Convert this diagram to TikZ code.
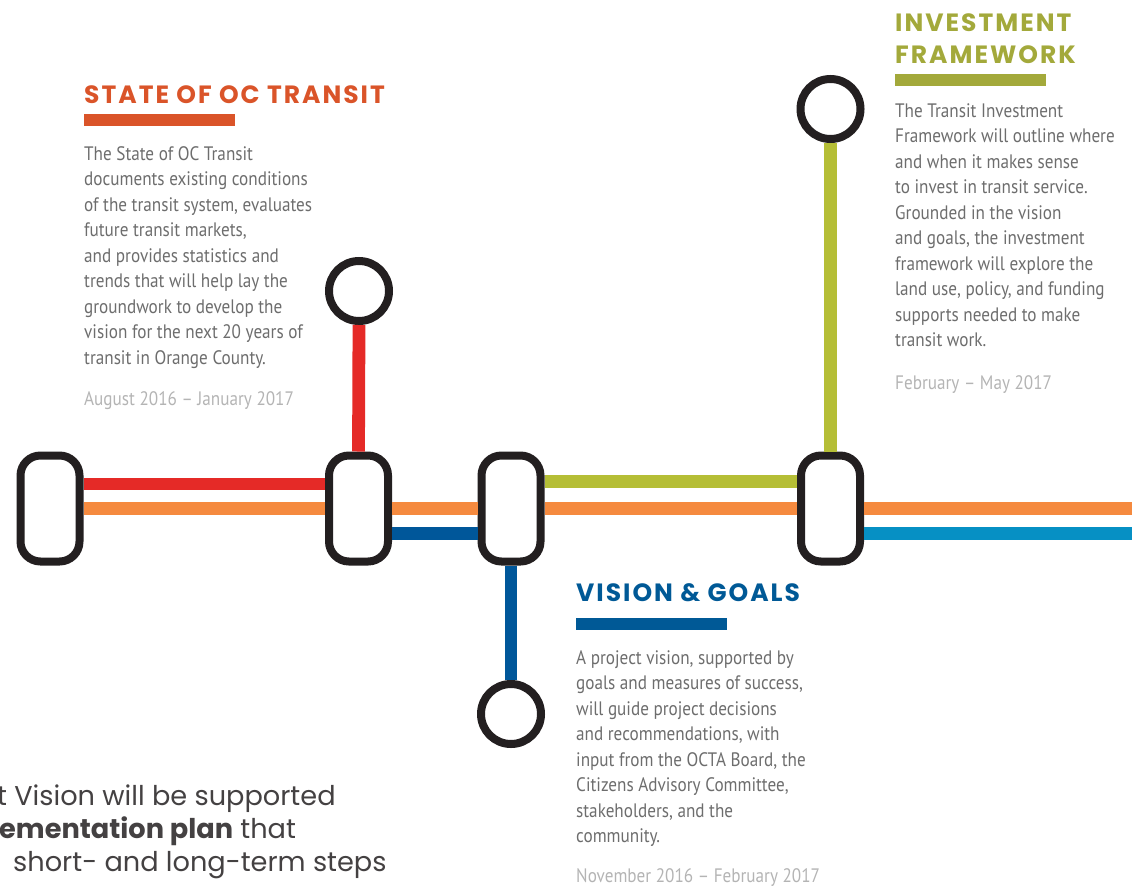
\documentclass[tikz,border=0pt]{standalone}
\usepackage{fontspec}
\setmainfont{PT Sans}
\newfontfamily\headfont[LetterSpace=8]{Poppins}
\newfontfamily\planfont{Poppins}
\newfontfamily\bodyfont[FakeStretch=0.88]{PT Sans}
\usetikzlibrary{positioning}

\definecolor{ocred}{HTML}{E52A27}
\definecolor{ocorange}{HTML}{F58A3F}
\definecolor{ocblue}{HTML}{00579A}
\definecolor{ocolive}{HTML}{B5BE36}
\definecolor{occyan}{HTML}{0690C4}
\definecolor{ocink}{HTML}{231F20}
\definecolor{statecol}{HTML}{DA5429}
\definecolor{investcol}{HTML}{A3A93B}
\definecolor{visioncol}{HTML}{005996}
\definecolor{bodygray}{HTML}{6D6D6D}
\definecolor{dategray}{HTML}{B4B4B4}

\begin{document}
\begin{tikzpicture}[
    x=1pt, y=-1pt,
    % Transit map styles
    station/.style={rectangle, draw=ocink, line width=8pt, fill=white, rounded corners=20pt, minimum width=59pt, minimum height=106pt, inner sep=0pt},
    stop/.style={circle, draw=ocink, line width=8pt, fill=white, minimum size=60pt, inner sep=0pt},
    track/.style={line width=12.8pt},
    heading/.style={anchor=north west, inner sep=0pt, align=left, font=\headfont\bfseries\fontsize{25}{32.3}\selectfont},
    bar/.style={anchor=north west, inner sep=0pt, minimum width=151pt, minimum height=12.5pt},
    bodytext/.style={anchor=north west, inner sep=0pt, align=left, text=bodygray, font=\bodyfont\fontsize{19.5}{25.5}\selectfont},
    datetext/.style={bodytext, text=dategray},
    plantext/.style={anchor=base west, inner sep=0pt, text=ocink!85, font=\planfont\fontsize{27.2}{34}\selectfont}
]
\useasboundingbox (0,0) rectangle (1132,886);

% ========================================================
% STATIONS AND STOPS
% ========================================================

\node[station] (s1) at (50,508.5) {};
\node[station] (s2) at (358.5,508.5) {};
\node[station] (s3) at (511,508.5) {};
\node[station] (s4) at (830.5,508.5) {};

\node[stop] (stopred) at (359,291) {};
\node[stop] (stopolive) at (830.5,109) {};
\node[stop] (stopblue) at (511,714) {};

\coordinate (eastorange) at (1132,508.5);
\coordinate (eastcyan) at (1132,533.7);

% ========================================================
% TRACKS
% ========================================================

\draw[track, ocred] ([yshift=24.5pt]s1.east) -- ([yshift=24.5pt]s2.west);
\draw[track, ocorange] (s1.east) -- (s2.west);
\draw[track, ocorange] (s2.east) -- (s3.west);
\draw[track, ocblue] ([yshift=-25.2pt]s2.east) -- ([yshift=-25.2pt]s3.west);
\draw[track, ocorange] (s3.east) -- (s4.west);
\draw[track, ocolive] ([yshift=26.8pt]s3.east) -- ([yshift=26.8pt]s4.west);
\draw[track, ocorange] (s4.east) -- (eastorange);
\draw[track, occyan] ([yshift=-25.2pt]s4.east) -- (eastcyan);

\draw[track, ocred] (stopred.south) -- (s2.north);
\draw[track, ocolive] (stopolive.south) -- (s4.north);
\draw[track, ocblue] (s3.south) -- (stopblue.north);

% ========================================================
% LABELS
% ========================================================

\node[heading, text=statecol] (statehead) at (84,85) {STATE OF OC TRANSIT};
\node[bar, fill=statecol] (statebar) at (84,113.5) {};
\node[bodytext] (statebody) at (84,146) {The State of OC Transit\\documents existing conditions\\of the transit system, evaluates\\future transit markets,\\and provides statistics and\\trends that will help lay the\\groundwork to develop the\\vision for the next 20 years of\\transit in Orange County.};
\node[datetext] (statedate) at (84,391) {August 2016 – January 2017};

\node[heading, text=investcol] (investhead) at (895,13.3) {INVESTMENT\\FRAMEWORK};
\node[bar, fill=investcol] (investbar) at (895,73.3) {};
\node[bodytext] (investbody) at (895,103) {The Transit Investment\\Framework will outline where\\and when it makes sense\\to invest in transit service.\\Grounded in the vision\\and goals, the investment\\framework will explore the\\land use, policy, and funding\\supports needed to make\\transit work.};
\node[datetext] (investdate) at (895,375) {February – May 2017};

\node[heading, text=visioncol] (visionhead) at (576,583.3) {VISION \& GOALS};
\node[bar, fill=visioncol] (visionbar) at (576,617.3) {};
\node[bodytext] (visionbody) at (576,650) {A project vision, supported by\\goals and measures of success,\\will guide project decisions\\and recommendations, with\\input from the OCTA Board, the\\Citizens Advisory Committee,\\stakeholders, and the\\community.};
\node[datetext] (visiondate) at (576,868) {November 2016 – February 2017};

% Cut-off plan text (bottom left)
\node[plantext] (plan1) at (-3,805) {t Vision will be supported};
\node[plantext] (plan2) at (-1,838.3) {\textbf{ementation plan} that};
\node[plantext] (plan3) at (13,871.7) {short- and long-term steps};

\end{tikzpicture}
\end{document}
